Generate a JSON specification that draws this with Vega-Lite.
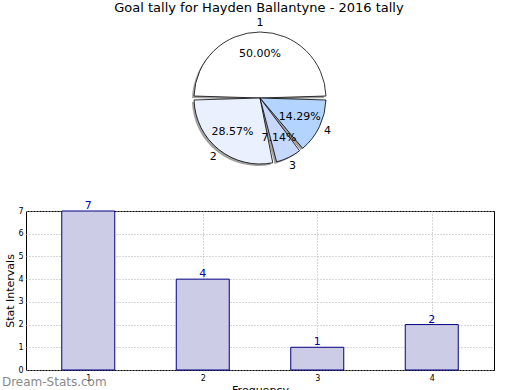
{
  "$schema": "https://vega.github.io/schema/vega-lite/v6.json",
  "padding": {"left": 1, "top": 2, "right": 5, "bottom": 0},
  "background": "white",
  "title": {"text": "Goal tally for Hayden Ballantyne - 2016 tally", "fontSize": 13, "font": "DejaVu Sans", "fontWeight": "normal", "anchor": "middle", "color": "#000", "offset": 2, "dx": 11},
  "config": {"view": {"stroke": null}, "font": "DejaVu Sans"},
  "bounds": "flush",
  "spacing": 43,
  "vconcat": [
    {
      "width": 468,
      "height": 140,
      "data": {"values": [
        {"tally": "1", "goals": 7, "pct": "50.00%"},
        {"tally": "2", "goals": 4, "pct": "28.57%"},
        {"tally": "3", "goals": 1, "pct": "7.14%"},
        {"tally": "4", "goals": 2, "pct": "14.29%"}
      ]},
      "encoding": {
        "theta": {"field": "goals", "type": "quantitative", "stack": true, "scale": {"range": [1.5708, -4.7124]}},
        "order": {"field": "tally", "type": "ordinal"}
      },
      "layer": [
        {
          "mark": {"type": "arc", "radius": 66, "padAngle": 0.06, "fill": "#888", "xOffset": -2, "yOffset": 2, "opacity": 0.8}
        },
        {
          "mark": {"type": "arc", "radius": 66, "padAngle": 0.06, "stroke": "#000", "strokeWidth": 0.8},
          "encoding": {
            "color": {"field": "tally", "type": "nominal", "legend": null,
              "scale": {"domain": ["1", "2", "3", "4"], "range": ["#ffffff", "#eaf0fe", "#c6d8fe", "#b3d4fe"]}}
          }
        },
        {
          "mark": {"type": "text", "radius": 44, "fontSize": 11, "color": "#000"},
          "encoding": {"text": {"field": "pct"}}
        },
        {
          "mark": {"type": "text", "radius": 75, "fontSize": 11, "color": "#000"},
          "encoding": {"text": {"field": "tally"}}
        }
      ]
    },
    {
      "width": 468,
      "height": 159,
      "view": {"stroke": "#000", "strokeWidth": 1},
      "title": {"text": "Dream-Stats.com", "orient": "bottom", "anchor": "start", "color": "#8a8a8a", "fontSize": 12, "fontWeight": "normal", "offset": -18, "dx": -3, "font": "DejaVu Sans"},
      "data": {"values": [
        {"interval": 1, "count": 7},
        {"interval": 2, "count": 4},
        {"interval": 3, "count": 1},
        {"interval": 4, "count": 2}
      ]},
      "encoding": {
        "x": {"field": "interval", "type": "quantitative", "title": "Frequency",
          "scale": {"domain": [0.5, 4.5], "nice": false, "zero": false},
          "axis": {"values": [1, 2, 3, 4], "format": "d", "labelFontSize": 8, "titleFontSize": 11, "titleFontWeight": "normal", "titlePadding": 2, "tickSize": 0, "labelPadding": 4, "domain": false, "grid": true, "gridDash": [1, 2], "gridColor": "#b0b0b0"}},
        "y": {"field": "count", "type": "quantitative", "title": "Stat Intervals",
          "scale": {"domain": [0, 7], "nice": false},
          "axis": {"values": [0, 1, 2, 3, 4, 5, 6, 7], "labelFontSize": 8, "titleFontSize": 11, "titleFontWeight": "normal", "titlePadding": 2, "tickSize": 0, "labelPadding": 3, "domain": false, "grid": true, "gridDash": [1, 2], "gridColor": "#b0b0b0"}}
      },
      "layer": [
        {"mark": {"type": "bar", "width": 53, "fill": "#ccccE6", "stroke": "#000080", "strokeWidth": 1}},
        {"mark": {"type": "text", "dy": -5, "fontSize": 11, "color": "#0000aa"}, "encoding": {"text": {"field": "count"}}}
      ]
    }
  ]
}
